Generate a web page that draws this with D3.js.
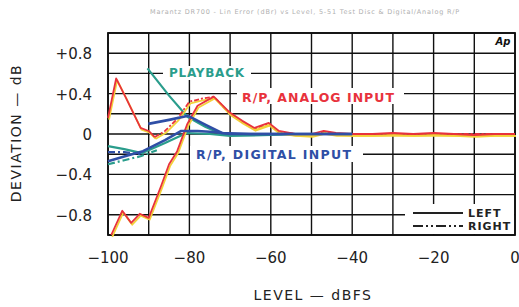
<!DOCTYPE html>
<html><head><meta charset="utf-8">
<script src="https://cdn.jsdelivr.net/npm/d3@7"></script>
<style>
body{margin:0;background:#fff}
svg{display:block}
text{font-family:"DejaVu Sans",sans-serif}
</style></head>
<body>
<svg id="c" width="519" height="307"></svg>
<script>
// ---- data ----
const xTicks = [-100,-80,-60,-40,-20,0];
const xTickLabels = ["\u2212100","\u221280","\u221260","\u221240","\u221220","0"];
const yTicks = [0.8,0.4,0,-0.4,-0.8];
const yTickLabels = ["+0.8","+0.4","0","\u22120.4","\u22120.8"];

const analogLeftLevel = [-99.2,-96.5,-94.3,-92.2,-90,-87,-85,-83,-80.5,-78,-74,-70,-67,-64,-60.5,-58,-54,-50,-47,-44,-40,-35,-30,-25,-20,-15,-10,-5,0];
const analogLeftDev   = [-1.0,-0.76,-0.88,-0.79,-0.83,-0.52,-0.30,-0.17,0.10,0.28,0.37,0.21,0.13,0.06,0.11,0.03,0.0,0.0,0.03,0.01,0.0,0.0,0.01,0.0,0.01,0.0,-0.01,0.0,0.0];
const analogRightLevel = [-100,-98,-95.5,-92,-90,-88.5,-86,-83,-80,-77,-74,-70,-67,-64,-60.5,-58,-54,-50,-47,-44,-40,-30,-20,-10,0];
const analogRightDev   = [0.16,0.55,0.35,0.06,0.03,-0.03,0.03,0.15,0.32,0.35,0.37,0.20,0.12,0.05,0.10,0.02,0.0,-0.01,0.02,0.0,0.0,0.0,0.0,0.0,0.0];

const playLeftLevel = [-90.3,-85,-80.5,-76,-72,-65,-60,-50,-40];
const playLeftDev   = [0.65,0.38,0.17,0.07,0.0,-0.01,0.0,0.0,0.0];
const playRightLevel = [-100,-96,-91.7,-86,-80.7,-75,-70,-60,-50,-40];
const playRightDev   = [-0.12,-0.15,-0.19,-0.09,0.01,0.0,-0.02,-0.01,0.0,0.0];

const digLeftLevel = [-100,-95,-91.4,-86,-82,-78,-74,-70,-60,-50,-40];
const digLeftDev   = [-0.27,-0.21,-0.17,-0.06,0.03,0.03,0.02,0.0,0.0,0.0,0.0];
const digRightLevel = [-90.1,-85,-80.3,-76,-72,-65,-60,-50,-40];
const digRightDev   = [0.10,0.14,0.18,0.09,0.01,0.0,0.0,0.0,0.0];
const digRight2Level = [-100,-96,-92];
const digRight2Dev   = [-0.18,-0.18,-0.2];
const playRight2Level = [-100,-96,-92,-88];
const playRight2Dev   = [-0.30,-0.26,-0.22,-0.16];

// ---- chart ----
const svg = d3.select("#c");
const L=108, R=515, T=33, B=235;
const x = d3.scaleLinear().domain([-100,0]).range([L,R]);
const y = d3.scaleLinear().domain([-1,1]).range([B,T]);

// caption
svg.append("text").attr("x",305).attr("y",14).attr("text-anchor","middle")
  .attr("font-size",6.5).attr("fill","#b0b0b0").attr("letter-spacing",0.8)
  .text("Marantz DR700 - Lin Error (dBr) vs Level, 5-51  Test Disc & Digital/Analog R/P");

// grid
const g = svg.append("g").attr("stroke","#111").attr("stroke-width",1.4);
d3.range(-100,1,10).forEach(v=>g.append("line").attr("x1",x(v)).attr("x2",x(v)).attr("y1",T).attr("y2",B));
d3.range(-1,1.001,0.2).forEach(v=>g.append("line").attr("x1",L).attr("x2",R).attr("y1",y(v)).attr("y2",y(v)));
svg.append("rect").attr("x",L).attr("y",T).attr("width",R-L).attr("height",B-T)
  .attr("fill","none").attr("stroke","#111").attr("stroke-width",1.8);

// white boxes behind labels
const wb = (x0,y0,w,h)=>svg.append("rect").attr("x",x0).attr("y",y0).attr("width",w).attr("height",h).attr("fill","#fff");
wb(163,66,88,14);
wb(237,88,167,16);
wb(190,146,173,16);
wb(405,204,109,30);

// lines
const line = (xs,ys)=>d3.line().x((d,i)=>x(xs[i])).y((d,i)=>y(ys[i]))(xs);
function draw(xs,ys,color,dash,w,shadow){
  if(shadow){
    svg.append("path").attr("d",line(xs,ys)).attr("fill","none").attr("stroke","#f3d23a")
      .attr("stroke-width",w).attr("transform","translate(1,1.8)")
      .attr("stroke-linejoin","round");
  }
  svg.append("path").attr("d",line(xs,ys)).attr("fill","none").attr("stroke",color)
    .attr("stroke-width",w).attr("stroke-dasharray",dash||null).attr("stroke-linejoin","round");
}
const teal="#2a9d8c", blue="#2f4fa6", red="#e8323c";
const dd="7,3,2,3";
draw(playRight2Level,playRight2Dev,teal,dd,2.2);
draw(playRightLevel,playRightDev,teal,null,2.2);
draw(playLeftLevel,playLeftDev,teal,null,2.2);
draw(digRight2Level,digRight2Dev,blue,dd,2.2);
// analog right: solid at the low end, dash-dot through the middle
const split = 6;
draw(analogRightLevel.slice(0,split),analogRightDev.slice(0,split),red,null,1.8,true);
draw(analogRightLevel.slice(split-1),analogRightDev.slice(split-1),red,"5,2,2,2",1.8,true);
draw(analogLeftLevel,analogLeftDev,red,null,1.8,true);
draw(digLeftLevel,digLeftDev,blue,null,2.6);
draw(digRightLevel,digRightDev,blue,null,2.6);

// series labels
svg.append("text").attr("x",169).attr("y",77).attr("fill",teal).attr("font-size",12)
  .attr("font-weight","bold").attr("letter-spacing",1).attr("textLength",76).text("PLAYBACK");
svg.append("text").attr("x",242).attr("y",102).attr("fill",red).attr("font-size",12.5)
  .attr("font-weight","bold").attr("letter-spacing",1).attr("textLength",153).text("R/P, ANALOG INPUT");
svg.append("text").attr("x",196).attr("y",159).attr("fill",blue).attr("font-size",12.5)
  .attr("font-weight","bold").attr("letter-spacing",1).attr("textLength",156).text("R/P, DIGITAL INPUT");

// legend
svg.append("line").attr("x1",413).attr("x2",463).attr("y1",213).attr("y2",213).attr("stroke","#222").attr("stroke-width",2.2);
svg.append("line").attr("x1",413).attr("x2",463).attr("y1",226).attr("y2",226).attr("stroke","#222").attr("stroke-width",2.2).attr("stroke-dasharray","10,3,2,3,2,3");
svg.append("text").attr("x",468).attr("y",217).attr("font-size",11).attr("font-weight","bold").attr("letter-spacing",1).attr("fill","#222").text("LEFT");
svg.append("text").attr("x",468).attr("y",230).attr("font-size",11).attr("font-weight","bold").attr("letter-spacing",1).attr("fill","#222").text("RIGHT");

// Ap logo
svg.append("text").attr("x",503).attr("y",45).attr("text-anchor","middle").attr("font-size",10)
  .attr("font-weight","bold").attr("font-style","italic").attr("fill","#111").text("Ap");

// axes tick labels
xTicks.forEach((v,i)=>svg.append("text").attr("x",x(v)).attr("y",263).attr("text-anchor","middle")
  .attr("font-size",15).attr("fill","#222").text(xTickLabels[i]));
yTicks.forEach((v,i)=>svg.append("text").attr("x",92).attr("y",y(v)+6).attr("text-anchor","end")
  .attr("font-size",15).attr("fill","#222").text(yTickLabels[i]));

// axis titles
svg.append("text").attr("x",313).attr("y",300).attr("text-anchor","middle").attr("font-size",14)
  .attr("letter-spacing",1.5).attr("fill","#222").text("LEVEL \u2014 dBFS");
svg.append("text").attr("transform","translate(21,133) rotate(-90)").attr("text-anchor","middle")
  .attr("font-size",14).attr("letter-spacing",1.5).attr("fill","#222").text("DEVIATION \u2014 dB");
</script>
</body></html>
